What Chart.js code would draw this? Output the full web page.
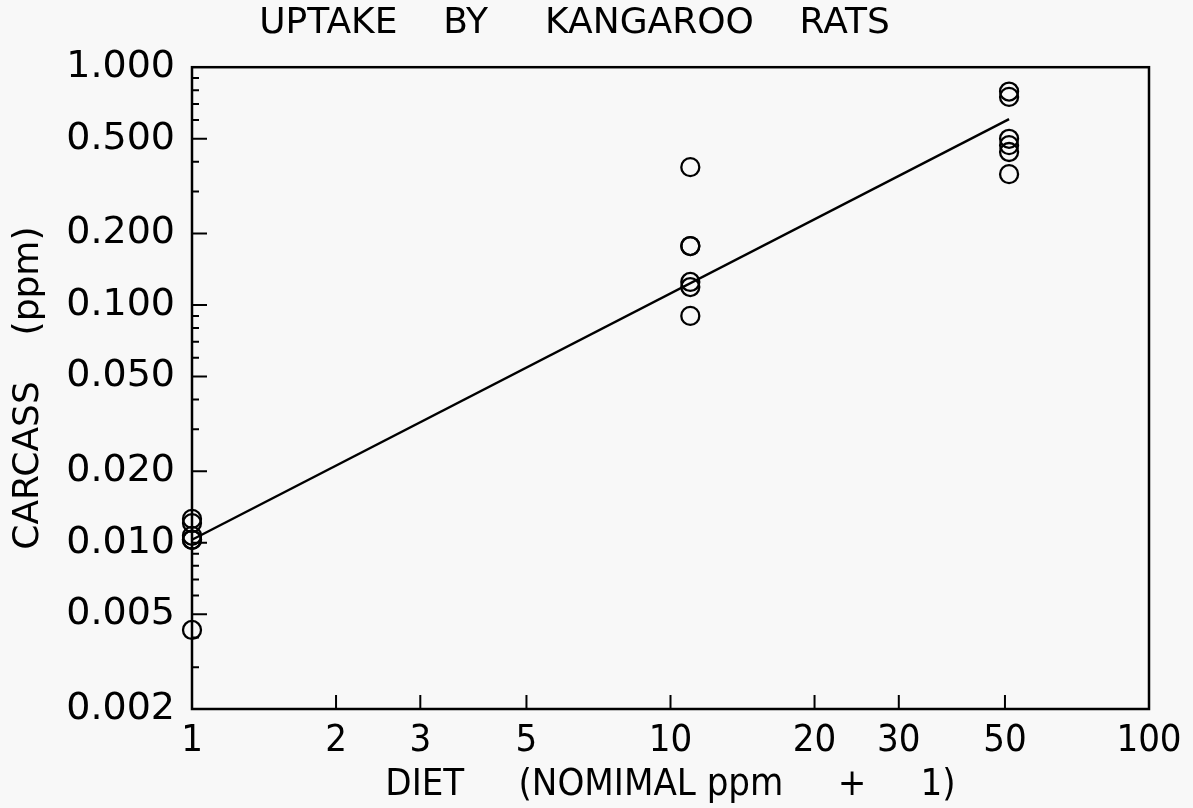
<!DOCTYPE html>
<html>
<head>
<meta charset="utf-8">
<script src="https://cdn.jsdelivr.net/npm/chart.js@4.4.1/dist/chart.umd.min.js"></script>
<style>
  html, body { margin: 0; padding: 0; background: #f8f8f8; }
  #wrap { width: 1193px; height: 808px; }
</style>
</head>
<body>
<div id="wrap"><canvas id="chart" width="1193" height="808"></canvas></div>
<script>
// diet level (nominal ppm + 1) and carcass concentration (ppm)
const dietLevels = [1, 11, 51];
const carcassAt1 = [0.0126, 0.0121, 0.0107, 0.0103, 0.0103, 0.0043];
const carcassAt11 = [0.380, 0.177, 0.177, 0.125, 0.119, 0.090];
const carcassAt51 = [0.79, 0.75, 0.50, 0.47, 0.44, 0.355];
// fitted line, end points at diet 1 and 51
const fitX = [1, 51];
const fitY = [0.0103, 0.605];

const xTickValues = [1, 2, 3, 5, 10, 20, 30, 50, 100];
const yTickValues = [0.002, 0.005, 0.01, 0.02, 0.05, 0.1, 0.2, 0.5, 1];
const yMinorValues = [0.003, 0.004, 0.006, 0.007, 0.008, 0.009,
  0.03, 0.04, 0.06, 0.07, 0.08, 0.09,
  0.3, 0.4, 0.6, 0.7, 0.8, 0.9];

const points = [];
[carcassAt1, carcassAt11, carcassAt51].forEach((vals, i) => {
  vals.forEach(v => points.push({ x: dietLevels[i], y: v }));
});

const FONT = 'DejaVu Sans';
const FONT_NARROW = 'DejaVu Sans Condensed';

const framePlugin = {
  id: 'frame',
  afterDatasetsDraw(chart) {
    const { ctx, chartArea: a, scales } = chart;
    ctx.save();
    ctx.strokeStyle = '#000';
    ctx.lineWidth = 2.5;
    ctx.strokeRect(a.left, a.top, a.right - a.left, a.bottom - a.top);
    ctx.lineWidth = 2;
    ctx.beginPath();
    yTickValues.forEach(v => {
      if (v === 1 || v === 0.002) return;
      const y = scales.y.getPixelForValue(v);
      ctx.moveTo(a.left, y);
      ctx.lineTo(a.left + 15, y);
    });
    yMinorValues.forEach(v => {
      const y = scales.y.getPixelForValue(v);
      ctx.moveTo(a.left, y);
      ctx.lineTo(a.left + 7, y);
    });
    xTickValues.forEach(v => {
      if (v === 1 || v === 100) return;
      const x = scales.x.getPixelForValue(v);
      ctx.moveTo(x, a.bottom);
      ctx.lineTo(x, a.bottom - 14);
    });
    ctx.stroke();
    ctx.restore();
  }
};

const bgPlugin = {
  id: 'bg',
  beforeDraw(chart) {
    const ctx = chart.ctx;
    ctx.save();
    ctx.fillStyle = '#f8f8f8';
    ctx.fillRect(0, 0, chart.width, chart.height);
    ctx.restore();
  }
};

new Chart(document.getElementById('chart'), {
  type: 'scatter',
  data: {
    datasets: [
      {
        label: 'carcass',
        data: points,
        pointStyle: 'circle',
        pointRadius: 9,
        pointBorderWidth: 2.3,
        pointBorderColor: '#000',
        pointBackgroundColor: 'rgba(0,0,0,0)',
        showLine: false
      },
      {
        label: 'fit',
        data: fitX.map((x, i) => ({ x: x, y: fitY[i] })),
        showLine: true,
        borderColor: '#000',
        borderWidth: 2.4,
        pointRadius: 0
      }
    ]
  },
  options: {
    responsive: false,
    animation: false,
    clip: false,
    layout: { padding: { left: 0, right: 44, top: 0, bottom: 0 } },
    plugins: {
      legend: { display: false },
      tooltip: { enabled: false },
      title: {
        display: true,
        text: 'UPTAKE    BY     KANGAROO    RATS',
        color: '#000',
        font: { family: FONT, size: 36, weight: 'normal' },
        padding: { top: 2, bottom: 22 }
      }
    },
    scales: {
      x: {
        type: 'logarithmic',
        min: 1,
        max: 100,
        afterBuildTicks: s => { s.ticks = xTickValues.map(v => ({ value: v })); },
        afterFit: s => { s.height = 99; },
        grid: { display: false, drawTicks: false },
        border: { display: false },
        ticks: {
          color: '#000',
          font: { family: FONT_NARROW, size: 38 },
          padding: 9,
          autoSkip: false,
          maxRotation: 0,
          callback: v => String(v)
        },
        title: {
          display: true,
          text: 'DIET     (NOMIMAL ppm     +     1)',
          color: '#000',
          font: { family: FONT_NARROW, size: 38 },
          padding: { top: 0, bottom: 0 }
        }
      },
      y: {
        type: 'logarithmic',
        min: 0.002,
        max: 1,
        afterBuildTicks: s => { s.ticks = yTickValues.map(v => ({ value: v })); },
        afterFit: s => { s.width = 192; },
        grid: { display: false, drawTicks: false },
        border: { display: false },
        ticks: {
          color: '#000',
          font: { family: FONT, size: 38 },
          padding: 17,
          autoSkip: false,
          callback: v => Number(v).toFixed(3)
        },
        title: {
          display: true,
          text: 'CARCASS    (ppm)',
          color: '#000',
          font: { family: FONT, size: 36 },
          padding: { top: 7, bottom: 0 }
        }
      }
    }
  },
  plugins: [bgPlugin, framePlugin]
});
</script>
</body>
</html>
